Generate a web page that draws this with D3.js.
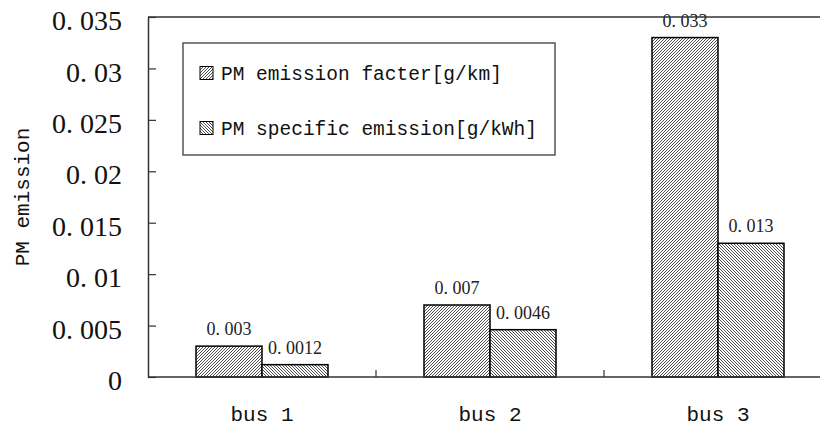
<!DOCTYPE html>
<html>
<head>
<meta charset="utf-8">
<script src="https://cdn.jsdelivr.net/npm/d3@7"></script>
<style>
  body { margin: 0; background: #fff; }
  svg { display: block; }
</style>
</head>
<body>
<svg id="chart"></svg>
<script>
"use strict";

var width = 820,
    height = 427,
    margin = { top: 17, left: 148 },
    plotW = 684,
    plotH = 360;

// data
var buses = ["bus 1", "bus 2", "bus 3"],
    seriesNames = ["PM emission facter[g/km]", "PM specific emission[g/kWh]"],
    factor = [0.003, 0.007, 0.033],
    specific = [0.0012, 0.0046, 0.013],
    yTicks = [0, 0.005, 0.01, 0.015, 0.02, 0.025, 0.03, 0.035];

var rows = buses.map(function (b, i) {
    return { bus: b, values: [factor[i], specific[i]] };
});

var svg = d3.select("#chart")
    .attr("width", width)
    .attr("height", height);

// hatch patterns
var defs = svg.append("defs");
defs.append("pattern")
    .attr("id", "hatch0")
    .attr("patternUnits", "userSpaceOnUse")
    .attr("width", 3).attr("height", 3)
  .call(function (p) {
      p.append("rect").attr("width", 3).attr("height", 3).attr("fill", "#fff");
      p.append("path").attr("d", "M0,3L3,0M-1,1L1,-1M2,4L4,2")
          .attr("stroke", "#222").attr("stroke-width", 0.8);
  });
defs.append("pattern")
    .attr("id", "hatch1")
    .attr("patternUnits", "userSpaceOnUse")
    .attr("width", 3).attr("height", 3)
  .call(function (p) {
      p.append("rect").attr("width", 3).attr("height", 3).attr("fill", "#fff");
      p.append("path").attr("d", "M0,0L3,3M-1,2L1,4M2,-1L4,1")
          .attr("stroke", "#222").attr("stroke-width", 0.8);
  });

var x0 = d3.scaleBand().domain(buses).range([margin.left, margin.left + plotW]);
var x1 = d3.scaleBand().domain([0, 1]).range([0, 132]);
var y = d3.scaleLinear().domain([0, 0.035]).range([margin.top + plotH, margin.top]);

var fmt = function (v) { return String(+v.toFixed(4)).replace(".", ". "); };

// bars
var groups = svg.selectAll(".grp")
    .data(rows)
    .enter().append("g")
    .attr("class", "grp")
    .attr("transform", function (d) {
        return "translate(" + (x0(d.bus) + (x0.bandwidth() - 132) / 2) + ",0)";
    });

groups.selectAll("rect")
    .data(function (d) { return d.values; })
    .enter().append("rect")
    .attr("x", function (d, i) { return x1(i); })
    .attr("y", function (d) { return y(d); })
    .attr("width", x1.bandwidth())
    .attr("height", function (d) { return y(0) - y(d); })
    .attr("fill", function (d, i) { return "url(#hatch" + i + ")"; })
    .attr("stroke", "#000")
    .attr("stroke-width", 1.5);

groups.selectAll("text")
    .data(function (d) { return d.values; })
    .enter().append("text")
    .attr("x", function (d, i) { return x1(i) + x1.bandwidth() / 2; })
    .attr("y", function (d) { return y(d) - 11; })
    .attr("text-anchor", "middle")
    .attr("font-family", "Liberation Serif, serif")
    .attr("font-size", 18)
    .attr("fill", "#222")
    .text(fmt);

// frame: top line
svg.append("line")
    .attr("x1", margin.left).attr("x2", margin.left + plotW)
    .attr("y1", margin.top).attr("y2", margin.top)
    .attr("stroke", "#333").attr("stroke-width", 1.5);

// y axis
var yAxis = svg.append("g")
    .attr("transform", "translate(" + margin.left + ",0)")
    .call(d3.axisLeft(y)
        .tickValues(yTicks)
        .tickSizeInner(-8)
        .tickSizeOuter(0)
        .tickPadding(26)
        .tickFormat(function (v) { return v === 0 ? "0" : fmt(v); }));
yAxis.select(".domain").attr("stroke", "#333").attr("stroke-width", 1.5);
yAxis.selectAll(".tick line").attr("stroke", "#333").attr("stroke-width", 1.2);
yAxis.selectAll(".tick text")
    .attr("font-family", "Liberation Serif, serif")
    .attr("font-size", 28)
    .attr("dy", "0.45em")
    .attr("fill", "#111");

// x axis: boundary ticks pointing up
var xBottom = y(0);
svg.append("line")
    .attr("x1", margin.left).attr("x2", margin.left + plotW)
    .attr("y1", xBottom).attr("y2", xBottom)
    .attr("stroke", "#333").attr("stroke-width", 1.5);
svg.selectAll(".xtick")
    .data(buses.slice(1))
    .enter().append("line")
    .attr("class", "xtick")
    .attr("x1", function (d) { return x0(d); })
    .attr("x2", function (d) { return x0(d); })
    .attr("y1", xBottom).attr("y2", xBottom - 7)
    .attr("stroke", "#333").attr("stroke-width", 1.2);
svg.selectAll(".xlabel")
    .data(buses)
    .enter().append("text")
    .attr("class", "xlabel")
    .attr("x", function (d) { return x0(d) + x0.bandwidth() / 2; })
    .attr("y", 421)
    .attr("text-anchor", "middle")
    .attr("font-family", "Liberation Mono, monospace")
    .attr("font-size", 21)
    .attr("fill", "#111")
    .text(function (d) { return d; });

// y title
svg.append("text")
    .attr("transform", "translate(22,197) rotate(-90)")
    .attr("text-anchor", "middle")
    .attr("dy", "0.35em")
    .attr("font-family", "Liberation Mono, monospace")
    .attr("font-size", 21)
    .attr("fill", "#111")
    .text("PM emission");

// legend
var legend = svg.append("g");
legend.append("rect")
    .attr("x", 183).attr("y", 43)
    .attr("width", 372).attr("height", 112)
    .attr("fill", "#fff")
    .attr("stroke", "#555")
    .attr("stroke-width", 1.5);
var items = legend.selectAll(".item")
    .data(seriesNames)
    .enter().append("g")
    .attr("class", "item")
    .attr("transform", function (d, i) { return "translate(200," + (73 + i * 55) + ")"; });
items.append("rect")
    .attr("x", 0).attr("y", -6.5)
    .attr("width", 13).attr("height", 13)
    .attr("fill", function (d, i) { return "url(#hatch" + i + ")"; })
    .attr("stroke", "#000")
    .attr("stroke-width", 1);
items.append("text")
    .attr("x", 21)
    .attr("dy", "0.35em")
    .attr("font-family", "Liberation Mono, monospace")
    .attr("font-size", 19.5)
    .attr("fill", "#111")
    .text(function (d) { return d; });
</script>
</body>
</html>
